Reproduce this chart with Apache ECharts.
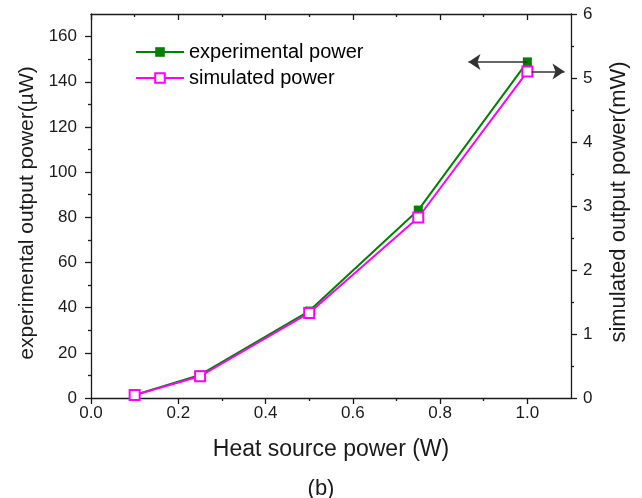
<!DOCTYPE html>
<html><head><meta charset="utf-8">
<script src="https://cdn.jsdelivr.net/npm/echarts@6/dist/echarts.min.js"></script>
<style>html,body{margin:0;padding:0;background:#fff}#c{width:642px;height:498px}</style>
</head><body><div id="c"></div>
<script>
const heatPower = [0.1, 0.25, 0.5, 0.75, 1.0];
const experimentalPower = [1.3, 10.2, 38.5, 83.2, 148.8];
const simulatedPower = [0.045, 0.34, 1.33, 2.82, 5.10];
const xMajor = [0, 0.2, 0.4, 0.6, 0.8, 1.0];
const xMinor = [0.1, 0.3, 0.5, 0.7, 0.9];
const yLeftMajor = [0, 20, 40, 60, 80, 100, 120, 140, 160];
const yLeftMinor = [10, 30, 50, 70, 90, 110, 130, 150];
const yRightMajor = [0, 1, 2, 3, 4, 5, 6];
const yRightMinor = [0.5, 1.5, 2.5, 3.5, 4.5, 5.5];
const arrowLeftEndX = 0.865;
const arrowRightEndX = 1.085;

const FONT = 'Liberation Sans, Arial, sans-serif';
const AX = '#1a1a1a';
const lineStyle = {color: AX, width: 1.3};

function xAx(pos, ticks, len, inside, labels, line) {
  return {
    type: 'value', position: pos, min: 0, max: 1.1,
    axisLine: {show: line, onZero: false, lineStyle},
    axisTick: {show: true, inside, length: len, customValues: ticks, lineStyle},
    axisLabel: labels ? {show: true, customValues: ticks, margin: 7, color: AX, fontSize: 17, fontFamily: FONT,
      formatter: v => v.toFixed(1)} : {show: false},
    splitLine: {show: false}
  };
}
function yAx(pos, max, ticks, len, labels, line, margin) {
  return {
    type: 'value', position: pos, min: 0, max: max,
    axisLine: {show: line, onZero: false, lineStyle},
    axisTick: {show: true, inside: false, length: len, customValues: ticks, lineStyle},
    axisLabel: labels ? {show: true, customValues: ticks, margin, color: AX, fontSize: 17, fontFamily: FONT} : {show: false},
    splitLine: {show: false}
  };
}

const xAxes = [
  Object.assign(xAx('bottom', xMajor, 6, false, true, true), {
    name: 'Heat source power (W)', nameLocation: 'middle', nameGap: 40,
    nameTextStyle: {fontSize: 23, color: AX, fontFamily: FONT}
  }),
  xAx('bottom', xMinor, 3, false, false, false),
  xAx('top', xMajor, 6, true, false, true),
  xAx('top', xMinor, 3, true, false, false)
];

const yAxes = [
  Object.assign(yAx('left', 170, yLeftMajor, 6, true, true, 14), {
    name: 'experimental output power(\u00B5W)', nameLocation: 'middle', nameGap: 53, nameRotate: 90,
    nameTextStyle: {fontSize: 21, color: AX, fontFamily: FONT, padding: [0, 14, 0, 0]}
  }),
  yAx('left', 170, yLeftMinor, 3, false, false, 14),
  Object.assign(yAx('right', 6, yRightMajor, 6, true, true, 12), {
    name: 'simulated output power(mW)', nameLocation: 'middle', nameGap: 37, nameRotate: 90,
    nameTextStyle: {fontSize: 22, color: AX, fontFamily: FONT, padding: [0, 0, 0, 8]}
  }),
  yAx('right', 6, yRightMinor, 3, false, false, 12)
];

const chart = echarts.init(document.getElementById('c'), null, {renderer: 'canvas'});
const nExp = experimentalPower.length - 1;
const nSim = simulatedPower.length - 1;
chart.setOption({
  animation: false,
  backgroundColor: '#fff',
  title: {text: '(b)', left: 'center', top: 473, textStyle: {fontSize: 22, fontWeight: 'normal', color: AX, fontFamily: FONT}},
  grid: {left: 91, right: 71, top: 14, bottom: 100, containLabel: false},
  legend: {
    orient: 'vertical', left: 130, top: 37, itemWidth: 48, itemHeight: 12, itemGap: 6,
    textStyle: {fontSize: 20, color: '#000', fontFamily: FONT},
    data: ['experimental power', 'simulated power']
  },
  xAxis: xAxes,
  yAxis: yAxes,
  series: [
    {
      name: 'experimental power', type: 'line', xAxisIndex: 0, yAxisIndex: 0,
      data: heatPower.map((x, i) => [x, experimentalPower[i]]),
      symbol: 'rect', symbolSize: 9,
      lineStyle: {color: '#008000', width: 2},
      itemStyle: {color: '#008000'},
      markLine: {
        silent: true, symbol: ['none', 'arrow'], symbolSize: [12, 12],
        lineStyle: {color: '#333', width: 1.5, type: 'solid'},
        label: {show: false},
        data: [[{coord: [heatPower[nExp], experimentalPower[nExp]]}, {coord: [arrowLeftEndX, experimentalPower[nExp]]}]]
      }
    },
    {
      name: 'simulated power', type: 'line', xAxisIndex: 0, yAxisIndex: 2,
      data: heatPower.map((x, i) => [x, simulatedPower[i]]),
      symbol: 'emptyRect', symbolSize: 10,
      lineStyle: {color: '#ff00ff', width: 2},
      itemStyle: {color: '#ff00ff', borderWidth: 1.2},
      markLine: {
        silent: true, symbol: ['none', 'arrow'], symbolSize: [12, 12],
        lineStyle: {color: '#333', width: 1.5, type: 'solid'},
        label: {show: false},
        data: [[{coord: [heatPower[nSim] + 0.01, simulatedPower[nSim]]}, {coord: [arrowRightEndX, simulatedPower[nSim]]}]]
      }
    }
  ]
});
</script>
</body></html>
